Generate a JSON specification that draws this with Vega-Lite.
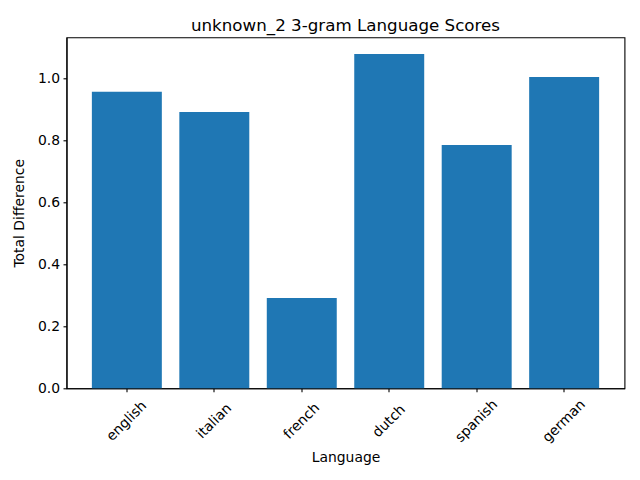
{
  "$schema": "https://vega.github.io/schema/vega-lite/v6.json",
  "width": 558,
  "height": 351,
  "autosize": "none",
  "padding": {"left": 66.5, "top": 37.3, "right": 15.5, "bottom": 91.7},
  "title": {
    "text": "unknown_2 3-gram Language Scores",
    "font": "DejaVu Sans",
    "fontSize": 16.7,
    "fontWeight": "normal",
    "color": "black",
    "anchor": "middle",
    "frame": "group",
    "baseline": "bottom",
    "offset": 4.5,
    "dy": 19
  },
  "data": {
    "values": [
      {"language": "english", "score": 0.956},
      {"language": "italian", "score": 0.891},
      {"language": "french", "score": 0.291},
      {"language": "dutch", "score": 1.078},
      {"language": "spanish", "score": 0.785},
      {"language": "german", "score": 1.004}
    ]
  },
  "mark": {"type": "bar", "color": "#1f77b4"},
  "encoding": {
    "x": {
      "field": "language",
      "type": "nominal",
      "sort": null,
      "title": "Language",
      "scale": {"paddingInner": 0.2, "paddingOuter": 0.29},
      "axis": {
        "labelAngle": -45,
        "labelAlign": "center",
        "labelBaseline": "middle",
        "labelPadding": 29,
        "titlePadding": 6
      }
    },
    "y": {
      "field": "score",
      "type": "quantitative",
      "title": "Total Difference",
      "scale": {"domain": [0, 1.132], "nice": false, "zero": true},
      "axis": {
        "values": [0, 0.2, 0.4, 0.6, 0.8, 1.0],
        "format": ".1f",
        "labelPadding": 3.5,
        "titlePadding": 11
      }
    }
  },
  "config": {
    "view": {"stroke": "black", "strokeWidth": 1.1},
    "axis": {
      "grid": false,
      "domainColor": "black",
      "domainWidth": 1.1,
      "tickColor": "black",
      "tickWidth": 1.1,
      "tickSize": 3.5,
      "labelColor": "black",
      "labelFont": "DejaVu Sans",
      "labelFontSize": 13.9,
      "titleColor": "black",
      "titleFont": "DejaVu Sans",
      "titleFontSize": 13.9,
      "titleFontWeight": "normal"
    }
  }
}
